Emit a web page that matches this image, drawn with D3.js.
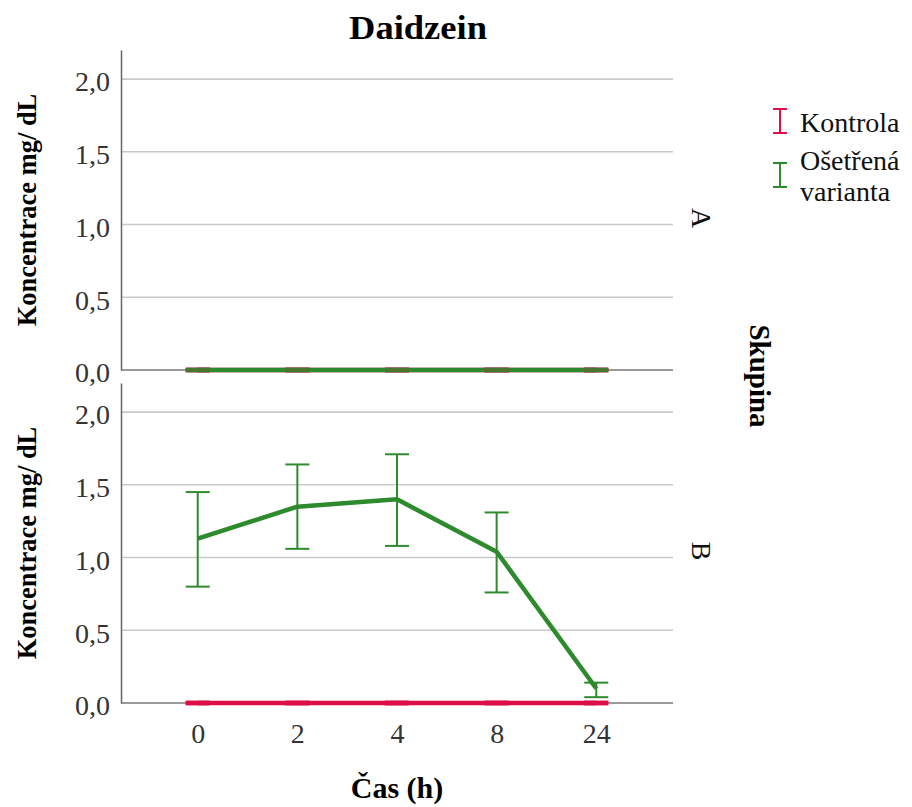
<!DOCTYPE html>
<html>
<head>
<meta charset="utf-8">
<script src="https://cdn.jsdelivr.net/npm/d3@7"></script>
<style>
html,body{margin:0;padding:0;background:#fff;}
svg{display:block;font-family:"Liberation Serif","Times New Roman",serif;}
</style>
</head>
<body>
<svg id="chart" width="912" height="807"></svg>
<script>
// ---- data ----
const times = ["0", "2", "4", "8", "24"];
const panels = ["A", "B"];
const seriesNames = ["Kontrola", "Ošetřená varianta"];
const yTicks = [0, 0.5, 1.0, 1.5, 2.0];

// Panel A
const kontrolaA_mean = [0, 0, 0, 0, 0];
const kontrolaA_lo   = [0, 0, 0, 0, 0];
const kontrolaA_hi   = [0, 0, 0, 0, 0];
const osetrenaA_mean = [0, 0, 0, 0, 0];
const osetrenaA_lo   = [0, 0, 0, 0, 0];
const osetrenaA_hi   = [0, 0, 0, 0, 0];
// Panel B
const kontrolaB_mean = [0, 0, 0, 0, 0];
const kontrolaB_lo   = [0, 0, 0, 0, 0];
const kontrolaB_hi   = [0, 0, 0, 0, 0];
const osetrenaB_mean = [1.13, 1.35, 1.40, 1.04, 0.10];
const osetrenaB_lo   = [0.80, 1.06, 1.08, 0.76, 0.04];
const osetrenaB_hi   = [1.45, 1.64, 1.71, 1.31, 0.14];

const colors = ["#dc0f49", "#2d8a2d"];

const panelData = [
  [ {mean: kontrolaA_mean, lo: kontrolaA_lo, hi: kontrolaA_hi},
    {mean: osetrenaA_mean, lo: osetrenaA_lo, hi: osetrenaA_hi} ],
  [ {mean: kontrolaB_mean, lo: kontrolaB_lo, hi: kontrolaB_hi},
    {mean: osetrenaB_mean, lo: osetrenaB_lo, hi: osetrenaB_hi} ]
];

// ---- layout ----
const svg = d3.select("#chart");
const left = 121, right = 673;
const panelBox = [{top: 50, bottom: 370}, {top: 383, bottom: 703}];

const x = d3.scalePoint().domain(times).range([left, right]).padding(0.77);

const fmt = d => d3.format(".1f")(d).replace(".", ",");

panels.forEach((p, pi) => {
  const box = panelBox[pi];
  const y = d3.scaleLinear().domain([0, 2.2]).range([box.bottom, box.top]);
  const g = svg.append("g");

  // gridlines
  g.selectAll("line.grid").data(yTicks.filter(t => t > 0)).join("line")
    .attr("x1", left).attr("x2", right)
    .attr("y1", d => y(d)).attr("y2", d => y(d))
    .attr("stroke", "#c9c9c9").attr("stroke-width", 1.6);
  // zero baseline
  g.append("line").attr("x1", left).attr("x2", right)
    .attr("y1", y(0)).attr("y2", y(0))
    .attr("stroke", "#9a9a9a").attr("stroke-width", 2);

  // y axis
  const yAxis = d3.axisLeft(y).tickValues(yTicks).tickFormat(fmt).tickSize(0).tickPadding(11);
  const ax = g.append("g").attr("transform", `translate(${left},0)`).call(yAxis);
  ax.select(".domain").attr("stroke", "#666").attr("stroke-width", 1.5);
  ax.selectAll("text").attr("font-size", 28).attr("fill", "#333")
    .attr("font-family", "Liberation Serif").attr("dy", "0.42em");

  // series lines
  const line = d3.line().x((d, i) => x(times[i])).y(d => y(d));
  panelData[pi].forEach((s, si) => {
    g.append("path").datum(s.mean)
      .attr("d", line).attr("fill", "none")
      .attr("stroke", colors[si]).attr("stroke-width", 4.5)
      .attr("stroke-linejoin", "round");
  });
  // error bars
  const cap = 12;
  panelData[pi].forEach((s, si) => {
    const eb = g.append("g").attr("stroke", colors[si]).attr("stroke-width", 2);
    times.forEach((t, i) => {
      const degenerate = s.hi[i] === s.lo[i];
      const op = (degenerate && si > 0) ? 0.6 : 1;
      const cx = x(t);
      eb.append("line").attr("x1", cx).attr("x2", cx)
        .attr("y1", y(s.lo[i])).attr("y2", y(s.hi[i])).attr("opacity", op);
      [s.lo[i], s.hi[i]].forEach(v => {
        eb.append("line").attr("x1", cx - cap).attr("x2", cx + cap)
          .attr("y1", y(v)).attr("y2", y(v))
          .attr("stroke-width", degenerate ? 4.5 : 2).attr("opacity", op);
      });
    });
  });

  // y axis title
  const cy = (box.top + box.bottom) / 2;
  svg.append("text")
    .attr("transform", `translate(36,${cy}) rotate(-90)`)
    .attr("text-anchor", "middle")
    .attr("font-size", 26.5).attr("font-weight", "bold").attr("fill", "#000")
    .text("Koncentrace mg/ dL");

  // panel label on the right
  svg.append("text")
    .attr("transform", `translate(692,${cy + 8}) rotate(90)`)
    .attr("text-anchor", "middle")
    .attr("font-size", 28).attr("fill", "#111")
    .text(p);
});

// x axis tick labels
const xAxis = d3.axisBottom(x).tickSize(0).tickPadding(20);
const xa = svg.append("g").attr("transform", `translate(0,${panelBox[1].bottom})`).call(xAxis);
xa.select(".domain").remove();
xa.selectAll("text").attr("font-size", 28).attr("fill", "#333")
  .attr("font-family", "Liberation Serif");

// title
svg.append("text").attr("x", 418).attr("y", 39).attr("text-anchor", "middle")
  .attr("font-size", 34).attr("font-weight", "bold").attr("fill", "#000")
  .attr("textLength", 138).attr("lengthAdjust", "spacingAndGlyphs")
  .text("Daidzein");

// x title
svg.append("text").attr("x", 397).attr("y", 798).attr("text-anchor", "middle")
  .attr("font-size", 30).attr("font-weight", "bold").attr("fill", "#000")
  .text("Čas (h)");

// Skupina
svg.append("text")
  .attr("transform", `translate(750,376) rotate(90)`)
  .attr("text-anchor", "middle")
  .attr("font-size", 29).attr("font-weight", "bold").attr("fill", "#000")
  .text("Skupina");

// legend
const legendY = [121, 175];
const legendLines = [["Kontrola"], ["Ošetřená", "varianta"]];
seriesNames.forEach((name, i) => {
  const lg = svg.append("g");
  const cy = legendY[i];
  lg.append("line").attr("x1", 780).attr("x2", 780).attr("y1", cy - 12).attr("y2", cy + 12)
    .attr("stroke", colors[i]).attr("stroke-width", 2);
  [-12, 12].forEach(o => lg.append("line").attr("x1", 773).attr("x2", 787)
    .attr("y1", cy + o).attr("y2", cy + o).attr("stroke", colors[i]).attr("stroke-width", 2));
  const lines = legendLines[i];
  lines.forEach((t, j) => {
    lg.append("text").attr("x", 800)
      .attr("y", lines.length === 1 ? cy + 11 : cy - 5 + j * 31)
      .attr("font-size", 28).attr("fill", "#111").text(t);
  });
});
</script>
</body>
</html>
